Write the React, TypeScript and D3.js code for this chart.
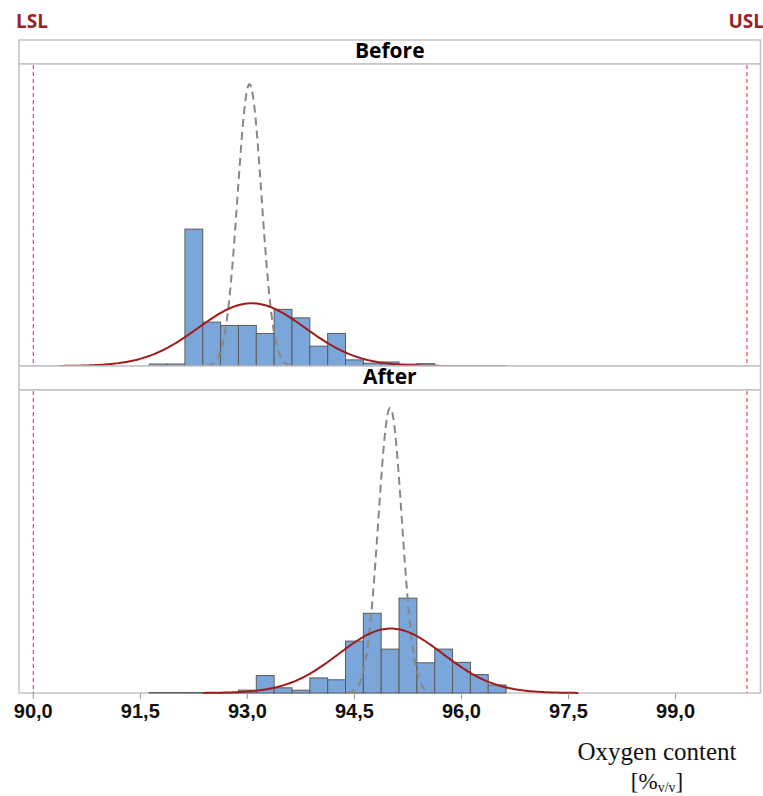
import React from "react";
import * as d3 from "d3";

// histogram bins (centres, width 0.25) and percent per bin
const binWidth = 0.25;
const beforeCenters = [91.75, 92.0, 92.25, 92.5, 92.75, 93.0, 93.25, 93.5, 93.75, 94.0, 94.25, 94.5, 94.75, 95.0, 95.25, 95.5, 95.75, 96.0, 96.25, 96.5];
const beforePct = [0.42, 0.42, 29.0, 9.3, 8.6, 8.6, 6.9, 12.0, 10.2, 4.2, 6.9, 1.3, 0.6, 0.85, 0.4, 0.5, 0.1, 0.1, 0.1, 0.1];
const afterCenters = [91.75, 92.0, 92.25, 92.5, 92.75, 93.0, 93.25, 93.5, 93.75, 94.0, 94.25, 94.5, 94.75, 95.0, 95.25, 95.5, 95.75, 96.0, 96.25, 96.5];
const afterPct = [0.1, 0.1, 0.1, 0.1, 0.1, 0.6, 3.7, 1.1, 0.6, 3.2, 2.8, 11.0, 16.9, 9.3, 20.1, 6.4, 9.3, 6.5, 3.9, 1.7];

// fitted normals: overall (solid) and within (dashed)
const beforeOverall = { mean: 93.06, sd: 0.75 };
const beforeWithin = { mean: 93.03, sd: 0.167 };
const afterOverall = { mean: 95.01, sd: 0.73 };
const afterWithin = { mean: 95.0, sd: 0.165 };

const LSL = 90;
const USL = 100;
const xTicks = [90, 91.5, 93, 94.5, 96, 97.5, 99];

const left = 19;
const right = 760.5;
const x = d3.scaleLinear().domain([89.8, 100.19]).range([left, right]);

const normalCurve = (fit: { mean: number; sd: number }) => {
  const lo = fit.mean - 3.6 * fit.sd;
  const hi = fit.mean + 3.6 * fit.sd;
  return d3.range(0, 201).map((i) => {
    const v = lo + ((hi - lo) * i) / 200;
    const z = (v - fit.mean) / fit.sd;
    const pdf = Math.exp(-0.5 * z * z) / (fit.sd * Math.sqrt(2 * Math.PI));
    return [v, 100 * binWidth * pdf] as [number, number];
  });
};

const fmt = (v: number) => v.toFixed(1).replace(".", ",");

const Panel = ({ label, top, bottom, centers, pct, overall, within }) => {
  const y = d3.scaleLinear().domain([0, 64]).range([bottom, bottom - 302]);
  const line = d3
    .line<[number, number]>()
    .x((d) => x(d[0]))
    .y((d) => y(d[1]));
  const hTop = top;
  const hBottom = top + 24;
  return (
    <g>
      <rect x={left} y={hTop} width={right - left} height={hBottom - hTop} fill="#fff" stroke="#c4c4c4" strokeWidth={1.5} />
      <text x={(left + right) / 2} y={hTop + 18} textAnchor="middle" fontFamily="'Open Sans', Arial, sans-serif" fontWeight={700} fontSize={21} fill="#000">
        {label}
      </text>
      <rect x={left} y={hBottom} width={right - left} height={bottom - hBottom} fill="#fff" stroke="#c4c4c4" strokeWidth={1.5} />
      {centers.map((c, i) => (
        <rect
          key={i}
          x={x(c - binWidth / 2)}
          y={y(pct[i])}
          width={x(c + binWidth / 2) - x(c - binWidth / 2)}
          height={bottom - y(pct[i])}
          fill="#7ba6da"
          stroke="#5b5b5b"
          strokeWidth={1}
        />
      ))}
      <path d={line(normalCurve(within)) || ""} fill="none" stroke="#888" strokeWidth={2} strokeDasharray="8 5" />
      <path d={line(normalCurve(overall)) || ""} fill="none" stroke="#a01c1c" strokeWidth={2} />
      {[LSL, USL].map((s) => (
        <line key={s} x1={x(s)} x2={x(s)} y1={hBottom + 1} y2={bottom} stroke="#e0282d" strokeWidth={1} strokeDasharray="4 3" />
      ))}
    </g>
  );
};

export default function App() {
  const axisY = 693;
  return (
    <svg width={763} height={796} style={{ position: "absolute", left: 0, top: 0, background: "#fff" }}>
      <text x={16} y={28} fontFamily="'Open Sans', Arial, sans-serif" fontWeight={700} fontSize={19} fill="#9b1f24">
        LSL
      </text>
      <text x={764} y={28} textAnchor="end" fontFamily="'Open Sans', Arial, sans-serif" fontWeight={700} fontSize={19} fill="#9b1f24">
        USL
      </text>
      <Panel label="Before" top={40} bottom={366} centers={beforeCenters} pct={beforePct} overall={beforeOverall} within={beforeWithin} />
      <Panel label="After" top={366} bottom={axisY} centers={afterCenters} pct={afterPct} overall={afterOverall} within={afterWithin} />
      {xTicks.map((t) => (
        <g key={t}>
          <line x1={x(t)} x2={x(t)} y1={axisY} y2={axisY + 6} stroke="#999" strokeWidth={1} />
          <text x={x(t)} y={718} textAnchor="middle" fontFamily="Arial, 'Liberation Sans', sans-serif" fontWeight={600} fontSize={20} fill="#111">
            {fmt(t)}
          </text>
        </g>
      ))}
      <text x={657} y={760} textAnchor="middle" fontFamily="'Liberation Serif', 'Times New Roman', serif" fontSize={25} fill="#111">
        Oxygen content
      </text>
      <text x={657} y={789} textAnchor="middle" fontFamily="'Liberation Serif', 'Times New Roman', serif" fontSize={23} fill="#111">
        [%
        <tspan fontSize={14} dy={3}>v/v</tspan>
        <tspan dy={-3}>]</tspan>
      </text>
    </svg>
  );
}
